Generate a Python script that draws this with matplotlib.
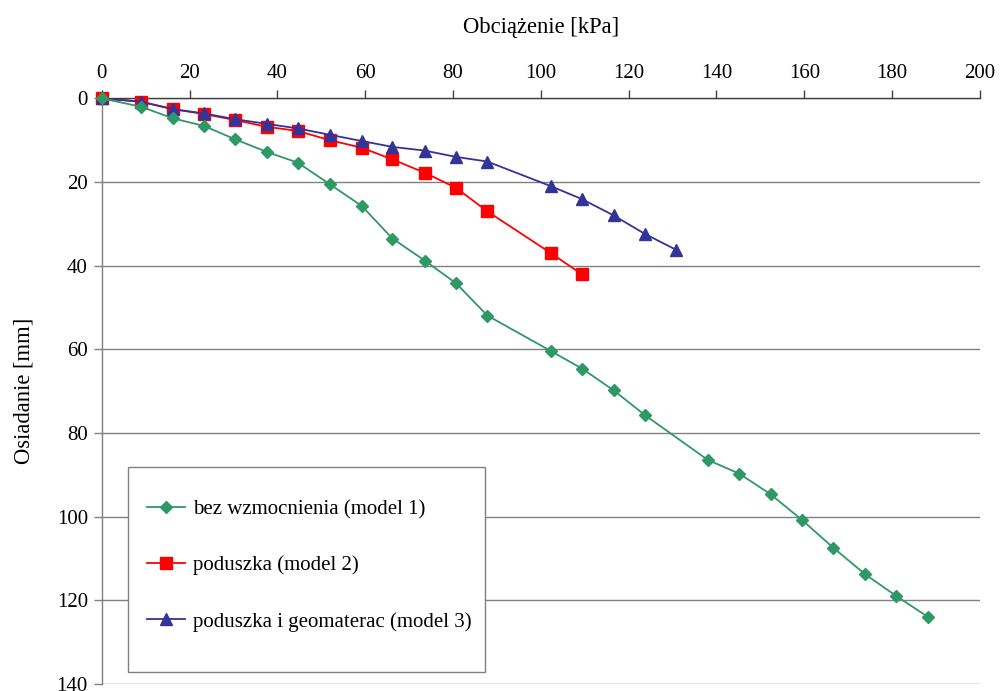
import matplotlib
matplotlib.use("Agg")
import matplotlib.pyplot as plt
from matplotlib.patches import Rectangle

# Data
load_m1 = [0, 8.9, 16.3, 23.3, 30.4, 37.6, 44.7, 51.9, 59.2, 66.2, 73.6, 80.7, 87.8,
           102.3, 109.4, 116.6, 123.7, 138.0, 145.2, 152.3, 159.5, 166.6, 173.8, 180.9, 188.1]
settle_m1 = [0, 2.0, 4.8, 6.6, 9.8, 12.8, 15.4, 20.5, 25.7, 33.5, 38.8, 44.2, 51.9,
             60.4, 64.6, 69.8, 75.7, 86.4, 89.7, 94.6, 100.8, 107.4, 113.7, 118.9, 123.9]

load_m2 = [0, 8.9, 16.3, 23.3, 30.4, 37.6, 44.7, 51.9, 59.2, 66.2, 73.6, 80.7, 87.8,
           102.3, 109.4]
settle_m2 = [0, 0.8, 2.6, 3.75, 5.2, 6.8, 7.8, 10.0, 11.8, 14.6, 17.8, 21.4, 27.0,
             37.0, 42.1]

load_m3 = [0, 8.9, 16.3, 23.3, 30.4, 37.6, 44.7, 51.9, 59.2, 66.2, 73.6, 80.7, 87.8,
           102.3, 109.4, 116.6, 123.7, 130.8]
settle_m3 = [0, 0.8, 2.6, 3.6, 5.0, 6.1, 7.2, 8.7, 10.2, 11.6, 12.5, 14.0, 15.1,
             21.0, 24.1, 28.0, 32.4, 36.2]

labels = ["bez wzmocnienia (model 1)", "poduszka (model 2)", "poduszka i geomaterac (model 3)"]
x_ticks = list(range(0, 201, 20))
y_ticks = list(range(0, 141, 20))

plt.rcParams['font.family'] = ['Liberation Serif', 'DejaVu Serif']

fig = plt.figure(figsize=(10.01, 6.91), dpi=100)
ax = fig.add_axes([0.1016, 0.0099, 0.8774, 0.8478])

green = '#2E9966'
red = '#FF0000'
blue = '#333399'
gray = '#808080'

l1, = ax.plot(load_m1, settle_m1, color=green, lw=1.3, marker='D', ms=6,
              mfc=green, mec=green, clip_on=False, zorder=6)
l2, = ax.plot(load_m2, settle_m2, color=red, lw=1.3, marker='s', ms=8.5,
              mfc=red, mec=red, clip_on=False, zorder=4)
l3, = ax.plot(load_m3, settle_m3, color=blue, lw=1.3, marker='^', ms=8.5,
              mfc=blue, mec=blue, clip_on=False, zorder=5)

ax.set_xlim(0, 200)
ax.set_ylim(140, 0)
ax.set_xticks(x_ticks)
ax.set_yticks(y_ticks)

ax.xaxis.tick_top()
ax.xaxis.set_label_position('top')
ax.tick_params(axis='x', direction='out', length=6, width=1, color='#404040',
               labelsize=15, pad=5)
ax.tick_params(axis='y', direction='out', length=6, width=1, color=gray,
               labelsize=15, pad=4)

ax.set_xlabel('Obciążenie [kPa]', fontsize=16.3, labelpad=22)
ax.set_ylabel('Osiadanie [mm]', fontsize=16.3, labelpad=16)

ax.yaxis.grid(True, color=gray, lw=1)
ax.xaxis.grid(False)
ax.set_axisbelow(True)

for s in ['right', 'bottom']:
    ax.spines[s].set_visible(False)
ax.spines['top'].set_color('#404040')
ax.spines['top'].set_linewidth(1)
ax.spines['left'].set_color(gray)
ax.spines['left'].set_linewidth(1)

# Legend box
box = Rectangle((0.030, 0.0208), 0.406, 0.35, transform=ax.transAxes,
                facecolor='white', edgecolor=gray, lw=1, zorder=7)
ax.add_patch(box)
leg = ax.legend([l1, l2, l3], labels, loc='upper left',
                bbox_to_anchor=(0.045, 0.3707 - 0.045), frameon=False,
                fontsize=15, labelspacing=1.75, handlelength=1.8,
                handletextpad=0.4, borderpad=0.3, borderaxespad=0)
leg.set_zorder(8)

fig.savefig('out.png', dpi=100)
